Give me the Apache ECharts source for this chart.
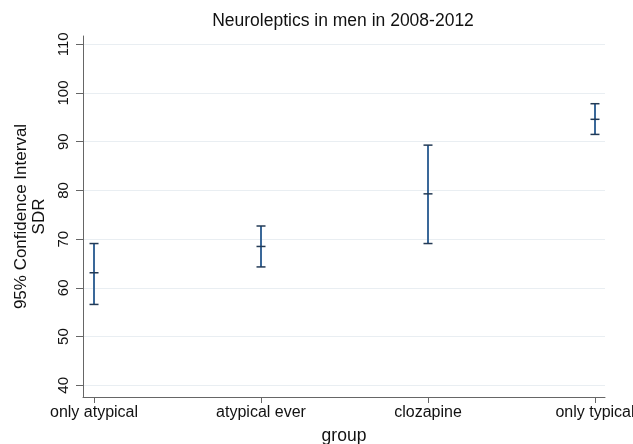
<!DOCTYPE html>
<html><head><meta charset="utf-8">
<script src="https://cdn.jsdelivr.net/npm/echarts@6/dist/echarts.min.js"></script>
<style>html,body{margin:0;padding:0;background:#fff}#c{width:633px;height:444px}</style>
</head><body><div id="c"></div>
<script>
const categories = ['only atypical', 'atypical ever', 'clozapine', 'only typical'];
const lower = [56.6, 64.3, 69.1, 91.5];
const mean = [63.1, 68.5, 79.3, 94.6];
const upper = [69.1, 72.7, 89.3, 97.8];
const yTicks = [40, 50, 60, 70, 80, 90, 100, 110];

const chart = echarts.init(document.getElementById('c'));
const FONT = 'Liberation Sans, Arial, sans-serif';
const data = categories.map((c, i) => [i, lower[i], mean[i], upper[i]]);

chart.setOption({
  backgroundColor: '#fff',
  animation: false,
  title: {
    text: 'Neuroleptics in men in 2008-2012',
    left: 338, top: 7, textAlign: 'center',
    textStyle: { fontFamily: FONT, fontSize: 17.5, fontWeight: 'normal', color: '#111' }
  },
  grid: { left: 83, right: 28, top: 36, bottom: 47, containLabel: false, outerBoundsMode: 'none' },
  xAxis: {
    type: 'value', min: -0.066, max: 3.06,
    name: 'group', nameLocation: 'middle', nameGap: 30,
    nameTextStyle: { fontFamily: FONT, fontSize: 17.5, color: '#111' },
    splitLine: { show: false },
    axisLine: { onZero: false, lineStyle: { color: '#666', width: 1 } },
    axisTick: { customValues: [0, 1, 2, 3], length: 6, lineStyle: { color: '#666' } },
    axisLabel: {
      customValues: [0, 1, 2, 3], margin: 8,
      formatter: v => categories[Math.round(v)],
      fontFamily: FONT, fontSize: 16, color: '#111'
    }
  },
  yAxis: {
    type: 'value', min: 37.6, max: 111.7,
    name: '95% Confidence Interval\nSDR', nameLocation: 'middle', nameRotate: 90, nameGap: 35,
    nameTextStyle: { fontFamily: FONT, fontSize: 17, color: '#111', lineHeight: 18 },
    axisLine: { show: true, onZero: false, lineStyle: { color: '#666', width: 1 } },
    axisTick: { show: true, customValues: yTicks, length: 7, lineStyle: { color: '#666' } },
    axisLabel: {
      customValues: yTicks, rotate: 90, margin: 12,
      fontFamily: FONT, fontSize: 15, color: '#111'
    },
    splitLine: { show: true, lineStyle: { color: '#e9eef2', width: 1 } }
  },
  series: [{
    type: 'custom',
    data: data,
    encode: { x: 0, y: [1, 2, 3] },
    renderItem: function (params, api) {
      const x = api.value(0);
      const lo = api.coord([x, api.value(1)]);
      const me = api.coord([x, api.value(2)]);
      const hi = api.coord([x, api.value(3)]);
      const hw = 4.5;
      const stroke = { stroke: '#3a6899', lineWidth: 2 };
      const cap = { stroke: '#233a55', lineWidth: 1.5 };
      return {
        type: 'group',
        children: [
          { type: 'line', shape: { x1: lo[0], y1: lo[1], x2: hi[0], y2: hi[1] }, style: stroke },
          { type: 'line', shape: { x1: lo[0] - hw, y1: lo[1], x2: lo[0] + hw, y2: lo[1] }, style: cap },
          { type: 'line', shape: { x1: me[0] - hw, y1: me[1], x2: me[0] + hw, y2: me[1] }, style: cap },
          { type: 'line', shape: { x1: hi[0] - hw, y1: hi[1], x2: hi[0] + hw, y2: hi[1] }, style: cap }
        ]
      };
    }
  }]
});
</script>
</body></html>
